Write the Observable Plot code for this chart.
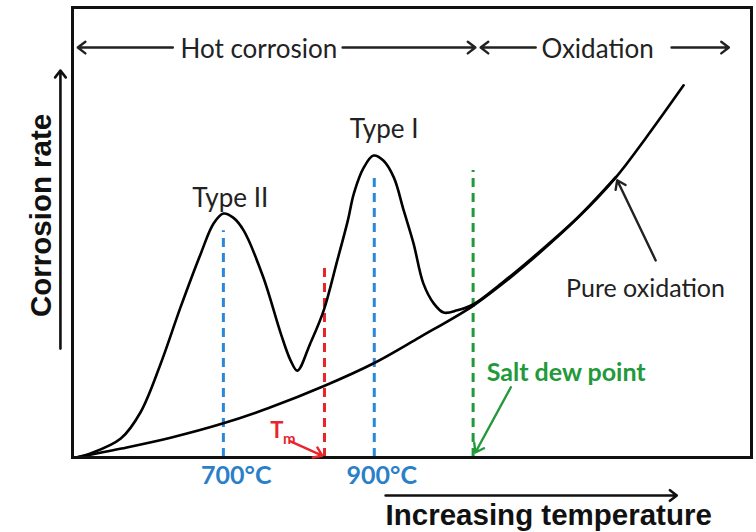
<!DOCTYPE html>
<html>
<head>
<meta charset="utf-8">
<script src="https://cdn.jsdelivr.net/npm/d3@7"></script>
<script src="https://cdn.jsdelivr.net/npm/@observablehq/plot@0.6"></script>
<style>
  html, body { margin: 0; padding: 0; background: #fff; }
</style>
</head>
<body>
<div id="chart"></div>
<script>
// ---- Data (temperature in °C, corrosion rate in arbitrary units) ----
const oxTemp = [505, 565, 630, 700, 760, 835, 900, 960, 1030, 1070, 1100, 1170, 1220, 1260, 1310];
const oxRate = [0, 2, 4.4, 7.6, 11, 16, 21, 26.7, 33.6, 38.6, 42.7, 53.3, 62.2, 71, 82.7];

const corTemp = [505, 524, 564, 590, 617, 643, 670, 687, 700, 713, 727, 753, 776, 789, 798, 815, 833, 851, 865, 873, 886, 899, 912, 926, 939, 952, 965, 979, 992, 1010, 1031, 1070, 1100, 1170, 1220];
const corRate = [0, 0.9, 4.2, 10.0, 20.9, 33.3, 45.3, 52, 54.2, 53.3, 50.4, 40, 27.6, 21.6, 19.3, 25.3, 32.7, 43.8, 52.7, 58.7, 64.4, 67.1, 66, 62.2, 54.9, 47.6, 38.7, 34.2, 32.2, 32.7, 34.0, 38.9, 43.0, 53.4, 62.3];

// Vertical markers: Type II temp, melting point, Type I temp, salt dew point
const markerTemp = [700, 834, 900, 1031];
const markerTop  = [50.4, 42.4, 63.1, 63.8];
const markerColors = ["#2b88d8", "#e8242c", "#2b88d8", "#22993a"];

const tickLabels = ["700°C", "900°C"];
const tickTemps  = [717, 910];

// Annotation anchors (data units)
const regionArrows = [
  {x1: 633, x2: 507, y: 91.1},
  {x1: 858, x2: 1034, y: 91.1},
  {x1: 1114, x2: 1041, y: 91.1},
  {x1: 1294, x2: 1370, y: 91.1}
];

const oxData = oxTemp.map((t, i) => ({t, r: oxRate[i]}));
const corData = corTemp.map((t, i) => ({t, r: corRate[i]}));
const markers = markerTemp.map((t, i) => ({t, top: markerTop[i], c: markerColors[i]}));

const ink = "#222";
const lato = "Lato, 'Open Sans', sans-serif";
const arial = "'Liberation Sans', Arial, sans-serif";

const chart = Plot.plot({
  width: 756,
  height: 532,
  marginLeft: 72,
  marginRight: 5,
  marginTop: 7,
  marginBottom: 75,
  x: {domain: [500, 1400], axis: null},
  y: {domain: [0, 100], axis: null},
  style: {background: "#fff", overflow: "visible"},
  marks: [
    // dashed markers
    Plot.ruleX(markers, {x: "t", y1: 0, y2: "top", stroke: "c", strokeWidth: 3, strokeDasharray: "9,6"}),
    // curves
    Plot.line(oxData, {x: "t", y: "r", curve: "catmull-rom", stroke: "#000", strokeWidth: 2.6}),
    Plot.line(corData, {x: "t", y: "r", curve: "catmull-rom", stroke: "#000", strokeWidth: 2.6}),
    // frame
    Plot.frame({stroke: "#111", strokeWidth: 3}),
    // region arrows
    Plot.arrow(regionArrows, {x1: "x1", x2: "x2", y1: "y", y2: "y", stroke: ink, strokeWidth: 2.4, headLength: 6, headAngle: 75}),
    Plot.text(["Hot corrosion"], {x: 747, y: 88.7, text: d => d, fontSize: 26, fontFamily: lato, fill: ink, lineAnchor: "bottom"}),
    Plot.text(["Oxidation"], {x: 1196, y: 88.7, text: d => d, fontSize: 26, fontFamily: lato, fill: ink, lineAnchor: "bottom"}),
    // peak labels
    Plot.text(["Type II"], {x: 709, y: 55.6, text: d => d, fontSize: 26, fontFamily: lato, fill: ink, lineAnchor: "bottom"}),
    Plot.text(["Type I"], {x: 913, y: 70.9, text: d => d, fontSize: 26, fontFamily: lato, fill: ink, lineAnchor: "bottom"}),
    // pure oxidation
    Plot.arrow([0], {x1: 1273, y1: 43.8, x2: 1222, y2: 61.6, stroke: ink, strokeWidth: 2.4, headLength: 6, headAngle: 70}),
    Plot.text(["Pure oxidation"], {x: 1259.5, y: 35.6, text: d => d, fontSize: 25, fontFamily: lato, fill: ink, lineAnchor: "bottom"}),
    // salt dew point
    Plot.text(["Salt dew point"], {x: 1049, y: 17.1, text: d => d, fontSize: 25, fontWeight: "bold", fontFamily: lato, fill: "#22993a", textAnchor: "start", lineAnchor: "bottom"}),
    Plot.arrow([0], {x1: 1081, y1: 15.6, x2: 1034, y2: 1.1, stroke: "#22993a", strokeWidth: 2.4, headLength: 6, headAngle: 70}),
    // Tm
    Plot.text(["T"], {x: 762, y: 4.4, text: d => d, fontSize: 22, fontWeight: "bold", fontFamily: lato, fill: "#e8242c", textAnchor: "start", lineAnchor: "bottom"}),
    Plot.text(["m"], {x: 779, y: 3.0, text: d => d, fontSize: 15, fontWeight: "bold", fontFamily: lato, fill: "#e8242c", textAnchor: "start", lineAnchor: "bottom"}),
    Plot.arrow([0], {x1: 789, y1: 3.6, x2: 831, y2: 0.4, stroke: "#e8242c", strokeWidth: 2.4, headLength: 6, headAngle: 70}),
    // temperature tick labels
    Plot.text(tickLabels, {x: (d, i) => tickTemps[i], y: -5.8, text: d => d, fontSize: 25, fontWeight: "bold", fontFamily: lato, fill: "#2b7fc8", lineAnchor: "bottom"}),
    // axis arrows & titles
    Plot.arrow([0], {x1: 484, y1: 24.2, x2: 484, y2: 86, stroke: "#111", strokeWidth: 2.6, headLength: 5, headAngle: 75}),
    Plot.text(["Corrosion rate"], {x: 459, y: 53.8, text: d => d, rotate: -90, fontSize: 29.5, fontWeight: "bold", fontFamily: arial, fill: "#111"}),
    Plot.arrow([0], {x1: 915, y1: -8.44, x2: 1301, y2: -8.44, stroke: "#111", strokeWidth: 2.6, headLength: 5, headAngle: 75}),
    Plot.text(["Increasing temperature"], {x: 915, y: -14.9, text: d => d, fontSize: 29.5, fontWeight: "bold", fontFamily: arial, fill: "#111", textAnchor: "start", lineAnchor: "bottom"})
  ]
});
document.getElementById("chart").appendChild(chart);
</script>
</body>
</html>
